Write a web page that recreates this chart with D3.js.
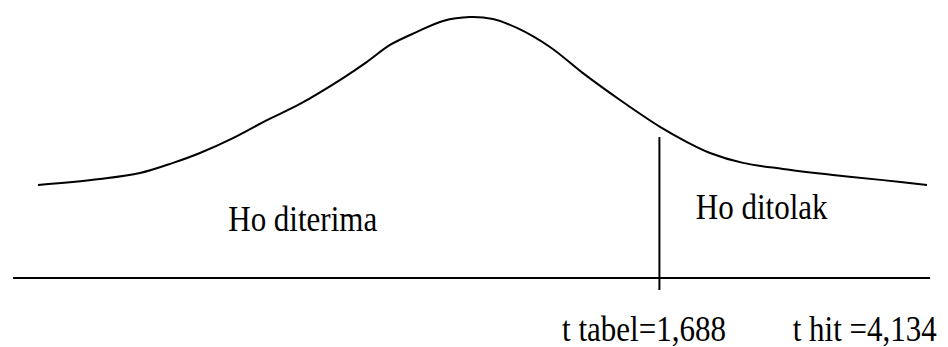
<!DOCTYPE html>
<html>
<head>
<meta charset="utf-8">
<script src="https://cdn.jsdelivr.net/npm/d3@7/dist/d3.min.js"></script>
<style>
  html, body { margin: 0; padding: 0; background: #fff; }
  svg { display: block; }
  text { font-family: "Liberation Serif", "Times New Roman", serif; fill: #000; }
</style>
</head>
<body>
<svg id="chart" width="948" height="347"></svg>
<script>
// Sketch of the t distribution: position along the axis (0..100) and relative height (0..1)
const curveX = [0, 6.97, 11.47, 15.19, 18.22, 21.93, 25.76, 29.47, 34.31, 37.01, 39.60, 42.63, 45.56, 48.59,
                51.18, 53.88, 57.59, 61.30, 65.47, 69.97, 73.00, 75.59, 79.30, 83.80, 89.43, 95.05, 100];
const curveY = [0.356, 0.379, 0.402, 0.441, 0.479, 0.536, 0.605, 0.667, 0.766, 0.828, 0.893, 0.943, 0.985, 1.0,
                0.992, 0.958, 0.885, 0.785, 0.682, 0.579, 0.521, 0.479, 0.441, 0.418, 0.395, 0.375, 0.356];

// Critical value marker (t table) and its height on the relative scale
const criticalPos = 69.9;
const criticalTop = 0.54;

// Region labels and their anchor positions along the axis
const regionLabels = ["Ho diterima", "Ho ditolak"];
const regionPos = [21.4, 74.0];
const regionHeight = [0.18, 0.226];

// Values written below the axis
const valueLabels = ["t tabel=1,688", "t hit =4,134"];
const valuePos = [58.95, 84.9];

const svg = d3.select("#chart");
const x = d3.scaleLinear().domain([0, 100]).range([38, 927]);
const y = d3.scaleLinear().domain([0, 1]).range([278, 17]);

// Tall, slightly narrow lettering
const stretch = 1.14;
function placeText(sel, px, py) {
  sel.attr("transform", (d, i) => `translate(${px(d, i)},${py(d, i)}) scale(1,${stretch})`);
}

// Horizontal axis line
svg.append("line")
  .attr("x1", x(-2.8)).attr("x2", x(100.35))
  .attr("y1", y(0)).attr("y2", y(0))
  .attr("stroke", "#000").attr("stroke-width", 2);

// Density curve
const pts = curveX.map((d, i) => [d, curveY[i]]);
svg.append("path")
  .datum(pts)
  .attr("fill", "none")
  .attr("stroke", "#000")
  .attr("stroke-width", 2)
  .attr("d", d3.line().x(d => x(d[0])).y(d => y(d[1])).curve(d3.curveCatmullRom.alpha(0.5)));

// Critical value line, running slightly below the axis
svg.append("line")
  .attr("x1", x(criticalPos)).attr("x2", x(criticalPos))
  .attr("y1", y(criticalTop)).attr("y2", y(0) + 12)
  .attr("stroke", "#000").attr("stroke-width", 2);

// Region labels
svg.selectAll("text.region")
  .data(regionLabels)
  .join("text")
  .attr("class", "region")
  .attr("font-size", 31)
  .text(d => d)
  .call(placeText, (d, i) => x(regionPos[i]), (d, i) => y(regionHeight[i]));

// Value labels under the axis
svg.selectAll("text.value")
  .data(valueLabels)
  .join("text")
  .attr("class", "value")
  .attr("font-size", 31)
  .text(d => d)
  .call(placeText, (d, i) => x(valuePos[i]), () => 341);
</script>
</body>
</html>
